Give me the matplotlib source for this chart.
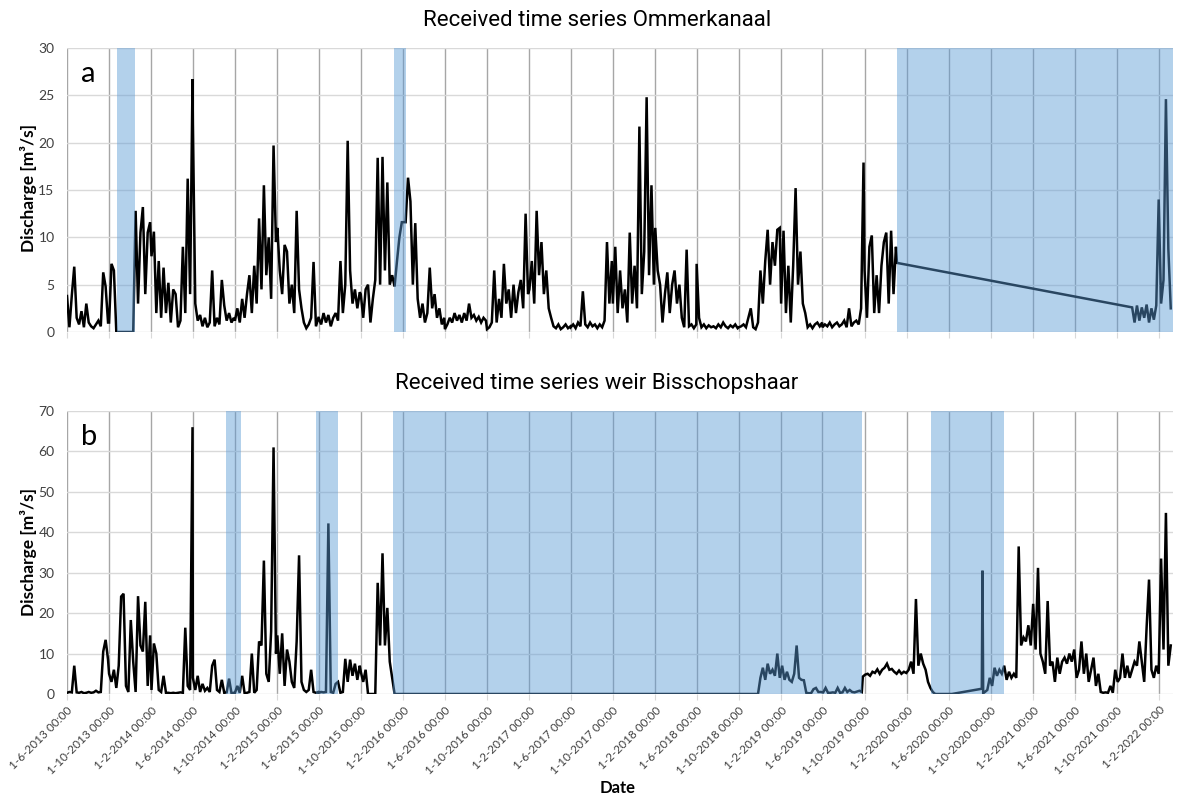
import numpy as np
import pandas as pd
import matplotlib
matplotlib.use('Agg')
import matplotlib.pyplot as plt
import matplotlib.dates as mdates
from matplotlib.ticker import FuncFormatter, MultipleLocator

plt.rcParams['font.family'] = ['Lato', 'DejaVu Sans']

# Ommerkanaal discharge [m3/s], weekly readings per hydrological year (Jun-May)
a_1314 = [3.8, 0.5, 3.9, 6.9, 1.5, 0.8, 2.2, 0.5, 3.0, 1.0, 0.6, 0.4, 0.8, 1.2, 0.6, 6.3, 4.8, 1.0,
          1.0, 7.2, 6.5, 0, 0, 0, 0, 0, 0, 0, 0, 12.8, 3.0, 10.5, 13.2, 4.0, 10.5, 11.6,
          8.0, 10.6, 2.0, 7.5, 1.5, 6.8, 2.0, 5.2, 1.0, 4.5, 4.0, 0.5, 1.2, 9.0, 2.0, 16.2, 4.0, 26.7]
a_1415 = [22.0, 3.0, 1.2, 1.8, 0.6, 1.5, 0.5, 1.0, 6.5, 0.6, 1.5, 0.8, 5.5, 2.8, 1.2, 2.0, 1.0, 1.5,
          1.2, 2.5, 1.0, 3.5, 1.5, 4.0, 6.0, 2.0, 7.0, 3.0, 12.0, 4.5, 15.5, 6.0, 10.0, 3.5, 19.7, 9.5,
          11.0, 6.5, 4.0, 9.2, 8.5, 3.0, 5.0, 2.0, 12.8, 4.5, 2.5, 1.0, 0.4, 0.8, 1.5, 7.4, 0.6, 1.5]
a_1516 = [1.5, 0.8, 2.0, 1.0, 1.8, 0.6, 1.5, 2.0, 1.2, 7.5, 2.0, 5.0, 20.2, 6.5, 3.0, 4.5, 2.5, 4.2,
          4.0, 1.5, 4.5, 5.0, 1.0, 3.5, 5.5, 18.4, 5.0, 18.5, 6.5, 15.8, 5.0, 6.0, 4.8, 7.5, 10.0, 11.6,
          11.6, 11.6, 16.3, 13.8, 5.0, 11.5, 3.5, 1.5, 3.0, 1.0, 2.0, 6.8, 2.5, 4.0, 1.5, 2.5, 0.8, 1.5]
a_1617 = [0.3, 0.8, 1.5, 1.0, 2.0, 1.2, 1.8, 1.0, 2.0, 1.2, 3.0, 1.5, 1.8, 1.2, 1.6, 1.0, 1.5, 1.2,
          0.3, 0.5, 1.0, 6.5, 1.0, 3.5, 1.5, 7.2, 3.0, 4.5, 1.5, 5.0, 2.0, 4.2, 5.5, 2.5, 12.5, 4.0,
          4.5, 7.5, 3.0, 12.8, 6.0, 9.5, 4.0, 6.5, 2.5, 1.5, 0.6, 0.4, 0.8, 0.3, 0.5, 0.8, 0.4, 0.6]
a_1718 = [0.5, 0.8, 0.4, 1.0, 0.6, 4.3, 0.8, 0.5, 1.0, 0.6, 0.8, 0.4, 0.8, 0.5, 1.2, 9.5, 3.0, 7.5,
          3.0, 9.0, 2.0, 6.5, 2.5, 4.5, 1.0, 10.5, 3.0, 7.0, 2.5, 21.7, 4.0, 8.5, 24.8, 6.0, 15.5, 5.0,
          11.0, 6.5, 5.0, 1.0, 4.0, 6.3, 2.0, 5.0, 6.5, 3.0, 5.0, 1.5, 0.5, 8.7, 0.6, 0.8, 0.4, 0.8]
a_1819 = [7.2, 1.5, 0.5, 0.8, 0.4, 0.7, 0.5, 0.6, 0.4, 0.8, 0.5, 1.0, 0.6, 0.4, 0.7, 0.5, 0.8, 0.4,
          0.5, 0.6, 0.8, 0.5, 1.5, 2.5, 0.5, 0.3, 1.0, 6.5, 3.0, 7.5, 10.8, 5.0, 9.5, 7.0, 10.8, 11.0,
          3.0, 10.7, 2.0, 7.0, 1.0, 7.0, 15.2, 5.0, 8.5, 3.0, 2.0, 0.5, 0.8, 0.4, 0.8, 1.0, 0.6, 1.0]
a_1920 = [0.5, 0.8, 0.6, 1.0, 0.5, 0.8, 1.0, 0.6, 0.8, 1.2, 0.5, 2.5, 0.6, 1.0, 1.2, 0.8, 2.5, 17.9,
          6.5, 1.5, 9.0, 10.2, 2.0, 6.0, 2.0, 7.0, 9.5, 10.5, 3.0, 10.7, 4.0, 9.0]
a_last_dates = ['2020-01-03']
a_last = [7.3]
a_2122 = [2.6, 1.0, 2.8, 1.2, 2.6, 1.5, 2.9, 1.0, 2.5, 1.3, 2.8, 14.0, 3.0, 5.5, 24.6, 8.8, 2.5]

# weir Bisschopshaar discharge [m3/s]
b_1314 = [0.3, 0.5, 0.4, 7.0, 0.4, 0.3, 0.5, 0.2, 0.3, 0.5, 0.3, 0.4, 0.8, 0.4, 0.5, 10.5, 13.4, 8.5,
          5.0, 3.0, 6.0, 1.5, 7.0, 24.1, 24.8, 2.0, 0.5, 18.3, 8.0, 0.5, 24.2, 12.0, 10.5, 22.8, 2.0, 14.5,
          1.0, 12.5, 10.0, 1.0, 0.5, 4.5, 0.3, 0.3, 0.2, 0.3, 0.2, 0.3, 0.4, 0.3, 16.4, 2.0, 1.0, 66.0]
b_1415 = [4.0, 1.0, 4.5, 0.5, 2.5, 0.8, 1.5, 0.5, 7.0, 8.5, 1.0, 0.5, 3.5, 0.3, 0.4, 3.8, 0.2, 0.3,
          0.3, 2.0, 0.3, 4.5, 0.2, 0.3, 0.5, 10.0, 0.3, 1.0, 13.0, 12.0, 33.0, 5.0, 3.0, 15.5, 61.0, 10.0,
          14.5, 5.0, 15.0, 2.0, 11.0, 8.0, 3.0, 1.5, 13.0, 34.3, 3.0, 1.0, 0.5, 1.0, 6.0, 0.5, 0.3, 0.5]
b_1516 = [0.3, 0.5, 0.4, 0.5, 42.2, 0.5, 0.3, 2.5, 3.0, 0.3, 0.5, 8.7, 3.0, 8.5, 4.5, 7.5, 3.5, 7.0,
          5.5, 3.0, 6.0, 0.0, 0.0, 0.0, 0.0, 27.5, 12.0, 34.8, 12.0, 21.3, 8.0, 4.0, 0.0]
b_1819 = [0.0, 4.0, 6.5, 3.5, 7.5, 5.0, 6.0, 4.5, 10.0, 4.0, 7.0, 3.5, 5.5, 3.5, 3.0, 5.0, 12.0, 4.0,
          3.5, 3.4, 0.3, 0.2, 0.2, 1.2, 1.5, 0.5, 0.5, 0.4, 1.5, 0.3, 0.3, 0.4, 0.3, 1.5, 0.3, 0.4,
          1.5, 0.5, 1.0, 0.5, 0.4, 0.6, 0.8, 0.5]
b_1920 = [4.3, 4.8, 5.0, 4.5, 5.5, 5.2, 6.1, 5.0, 6.0, 6.5, 7.5, 6.0, 6.2, 5.5, 5.0, 5.8, 5.0, 5.5,
          5.2, 6.0, 8.0, 5.0, 23.5, 7.0, 10.0, 7.5, 6.0, 3.0, 1.5, 0.5, 0.0]
b_2020_dates = ['2020-06-10', '2020-09-05', '2020-09-07', '2020-09-09']
b_2020 = [0.0, 1.3, 30.5, 0.2]
b_2022 = [0.5, 1.0, 4.0, 2.0, 6.5, 4.5, 6.0, 5.0, 7.0, 3.5, 5.5, 4.0, 5.0, 4.0, 36.5, 12.0, 14.0, 13.0,
          17.0, 12.0, 22.3, 11.0, 31.2, 10.0, 8.0, 5.0, 23.0, 7.0, 8.0, 3.0, 9.0, 5.0, 8.0, 9.0, 7.5, 10.0,
          8.0, 11.0, 4.0, 6.0, 13.0, 5.0, 10.0, 3.0, 6.0, 9.0, 2.0, 5.0, 0.5, 0.3, 0.4, 0.3, 2.0, 0.3,
          6.0, 3.0, 4.0, 10.0, 4.0, 7.0, 4.0, 6.0, 8.0, 7.0, 13.0, 8.0, 3.0, 16.5, 28.3, 6.0, 4.0, 7.0,
          5.0, 33.5, 11.0, 44.8, 7.0, 12.0]

# periods with missing / replaced data
a_missing = [('2013-10-24', '2013-12-15'), ('2016-01-05', '2016-02-09'), ('2020-01-03', '2022-03-14')]
b_missing = [('2014-09-05', '2014-10-19'), ('2015-05-24', '2015-07-27'),
             ('2016-01-02', '2019-09-24'), ('2020-04-11', '2020-11-09')]


def season(year, vals):
    # three 4-month blocks of weekly readings, starting Jun, Oct and Feb
    idx = pd.DatetimeIndex([])
    for s in [f'{year}-06-01', f'{year}-10-01', f'{year + 1}-02-01']:
        idx = idx.append(pd.date_range(s, periods=18, freq='7D'))
    return idx[:len(vals)]


def weekly(start, vals):
    return pd.date_range(start, periods=len(vals), freq='7D')


a_t = season(2013, a_1314).append([season(2014, a_1415), season(2015, a_1516), season(2016, a_1617),
                                   season(2017, a_1718), season(2018, a_1819), season(2019, a_1920),
                                   pd.DatetimeIndex(a_last_dates), weekly('2021-11-15', a_2122)])
a_q = np.concatenate([a_1314, a_1415, a_1516, a_1617, a_1718, a_1819, a_1920, a_last, a_2122])

b_t = season(2013, b_1314).append([season(2014, b_1415), season(2015, b_1516),
                                   weekly('2018-11-26', b_1819), weekly('2019-09-26', b_1920),
                                   pd.DatetimeIndex(b_2020_dates), weekly('2020-09-14', b_2022)])
b_q = np.concatenate([b_1314, b_1415, b_1516, b_1819, b_1920, b_2020, b_2022])

fig = plt.figure(figsize=(12.03, 8), dpi=100)
ax1 = fig.add_axes([0.0557, 0.585, 0.9195, 0.355])
ax2 = fig.add_axes([0.0557, 0.1325, 0.9195, 0.35375])

date_fmt = FuncFormatter(lambda v, p: (lambda d: f'{d.day}-{d.month}-{d.year} 00:00')(mdates.num2date(v)))

for ax, t, q, gaps, top, step, letter in [(ax1, a_t, a_q, a_missing, 30, 5, 'a'),
                                          (ax2, b_t, b_q, b_missing, 70, 10, 'b')]:
    ax.plot(t, q, color='black', lw=1.8, zorder=2, solid_joinstyle='miter')
    for s, e in gaps:
        ax.axvspan(pd.Timestamp(s), pd.Timestamp(e), color='#5B9BD5', alpha=0.46, lw=0, zorder=3)
    ax.set_xlim(pd.Timestamp('2013-06-01'), pd.Timestamp('2022-03-14'))
    ax.set_ylim(0, top)
    ax.yaxis.set_major_locator(MultipleLocator(step))
    ax.xaxis.set_major_locator(mdates.MonthLocator(bymonth=(2, 6, 10), bymonthday=1))
    ax.xaxis.set_major_formatter(date_fmt)
    ax.grid(axis='y', color='#d9d9d9', lw=1, zorder=0)
    ax.grid(axis='x', color='#a6a6a6', lw=1, zorder=0)
    for sp in ax.spines.values():
        sp.set_visible(False)
    ax.tick_params(axis='y', length=0, labelsize=10, pad=9, colors='#404040')
    ax.tick_params(axis='x', length=4, color='#d9d9d9', labelsize=8.5, colors='#404040')
    ax.text(0.013, 0.955, letter, transform=ax.transAxes, fontsize=21, va='top', ha='left', zorder=5)
    ax.set_axisbelow(True)

ax1.tick_params(axis='x', labelbottom=False)
for lb in ax2.get_xticklabels():
    lb.set_rotation(45)
    lb.set_ha('right')
    lb.set_rotation_mode('anchor')

fig.text(0.496, 0.974, 'Received time series Ommerkanaal', ha='center', va='center',
         fontsize=16, family='Roboto')
fig.text(0.496, 0.521, 'Received time series weir Bisschopshaar', ha='center', va='center',
         fontsize=16, family='Roboto')
fig.text(0.024, 0.765, 'Discharge [m³/s]', rotation=90, ha='center', va='center',
         fontsize=12.5, fontweight='bold')
fig.text(0.024, 0.31, 'Discharge [m³/s]', rotation=90, ha='center', va='center',
         fontsize=12.5, fontweight='bold')
fig.text(0.513, 0.015, 'Date', ha='center', va='center', fontsize=12, fontweight='bold')

fig.savefig('out.png', dpi=100)
